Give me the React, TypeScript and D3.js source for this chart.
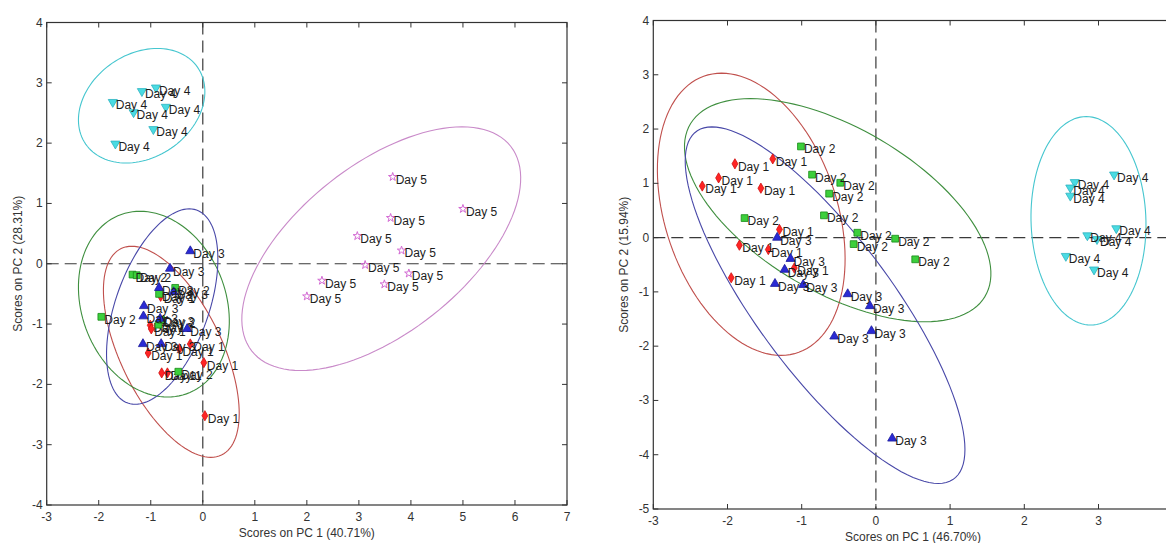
import React from "react";
import * as d3 from "d3";

// PCA scores, left plot (PC1 40.71%, PC2 28.31%)
const leftDay1 = [[-0.81, -0.54], [-1.01, -1.02], [-0.99, -1.08], [-1.05, -1.48], [-0.45, -1.41], [-0.24, -1.33], [0.02, -1.64], [-0.79, -1.81], [-0.68, -1.81], [0.04, -2.52]];
const leftDay2 = [[-1.35, -0.18], [-1.27, -0.19], [-0.84, -0.5], [-0.53, -0.4], [-1.95, -0.88], [-0.85, -1.01], [-0.8, -0.93], [-0.47, -1.79]];
const leftDay3 = [[-0.24, 0.21], [-0.63, -0.08], [-0.84, -0.4], [-0.56, -0.47], [-1.13, -0.7], [-1.14, -0.87], [-0.82, -0.91], [-0.3, -1.08], [-1.15, -1.33], [-0.8, -1.33]];
const leftDay4 = [[-1.73, 2.68], [-1.33, 2.51], [-1.17, 2.86], [-0.9, 2.92], [-0.71, 2.6], [-0.95, 2.23], [-1.68, 1.99]];
const leftDay5 = [[3.65, 1.44], [5.0, 0.91], [3.61, 0.76], [2.97, 0.46], [3.82, 0.22], [3.12, -0.02], [3.96, -0.16], [2.29, -0.28], [3.49, -0.34], [2.0, -0.54]];

// PCA scores, right plot (PC1 46.70%, PC2 15.94%)
const rightDay1 = [[-1.9, 1.36], [-1.39, 1.45], [-2.12, 1.1], [-2.34, 0.95], [-1.55, 0.91], [-1.3, 0.15], [-1.84, -0.14], [-1.45, -0.22], [-1.1, -0.56], [-1.95, -0.74]];
const rightDay2 = [[-1.01, 1.68], [-0.86, 1.16], [-0.48, 1.01], [-0.63, 0.81], [-0.7, 0.41], [-1.77, 0.36], [-0.25, 0.09], [-0.3, -0.12], [0.26, -0.02], [0.53, -0.4]];
const rightDay3 = [[-1.33, 0.0], [-1.15, -0.39], [-1.23, -0.59], [-1.36, -0.85], [-0.98, -0.87], [-0.38, -1.04], [-0.08, -1.26], [-0.56, -1.82], [-0.06, -1.72], [0.22, -3.7]];
const rightDay4 = [[2.68, 1.02], [2.62, 0.92], [2.62, 0.77], [3.21, 1.16], [3.24, 0.17], [2.85, 0.04], [2.98, -0.03], [2.56, -0.34], [2.94, -0.59]];

// confidence ellipses: [cx, cy, half width, half height, x offset of top point]
const leftEllipse1 = [-0.605, -1.46, 1.305, 1.75, -0.76];
const leftEllipse2 = [-0.94, -0.67, 1.45, 1.54, -0.265];
const leftEllipse3 = [-0.78, -0.71, 1.07, 1.62, 0.52];
const leftEllipse4 = [-1.175, 2.62, 1.215, 0.95, 0.3];
const leftEllipse5 = [3.43, 0.25, 2.68, 2.02, 1.55];
const rightEllipse1 = [-1.68, 0.43, 1.265, 2.6, -0.4];
const rightEllipse2 = [-0.515, 0.505, 2.065, 2.055, -1.175];
const rightEllipse3 = [-0.685, -1.245, 1.885, 3.285, -1.525];
const rightEllipse4 = [2.865, 0.31, 0.775, 1.92, -0.03];

const leftXTicks = [-3, -2, -1, 0, 1, 2, 3, 4, 5, 6, 7];
const leftYTicks = [-4, -3, -2, -1, 0, 1, 2, 3, 4];
const rightXTicks = [-3, -2, -1, 0, 1, 2, 3, 4];
const rightYTicks = [-5, -4, -3, -2, -1, 0, 1, 2, 3, 4];

const FONT = "'Liberation Sans', Arial, sans-serif";
const WIDTH = 1166;
const HEIGHT = 543;

const styles = {
  day1: { shape: "diamond", fill: "#ff2424", stroke: "#d01010", line: "#c0504d", label: "Day 1" },
  day2: { shape: "square", fill: "#3ccf3c", stroke: "#178a17", line: "#3f8f3f", label: "Day 2" },
  day3: { shape: "triangle", fill: "#2a2ad4", stroke: "#1a1a9a", line: "#4848a8", label: "Day 3" },
  day4: { shape: "down", fill: "#4adbe2", stroke: "#2fb3c0", line: "#45c6cf", label: "Day 4" },
  day5: { shape: "star", fill: "none", stroke: "#d36ad3", line: "#c98ac9", label: "Day 5" },
};

function symbolPath(shape) {
  if (shape === "diamond") return d3.symbol(d3.symbolDiamond, 30)();
  if (shape === "square") return d3.symbol(d3.symbolSquare, 46)();
  if (shape === "star") return d3.symbol(d3.symbolStar, 22)();
  return d3.symbol(d3.symbolTriangle, 36)();
}

function Panel(props) {
  const { x0, y0, w, h, xTicks, yTicks, groups, xLabel, yLabel } = props;
  const x = d3.scaleLinear().domain([xTicks[0], xTicks[xTicks.length - 1]]).range([x0, x0 + w]);
  const y = d3.scaleLinear().domain([yTicks[0], yTicks[yTicks.length - 1]]).range([y0 + h, y0]);

  const line = d3.line().x((d) => x(d[0])).y((d) => y(d[1])).curve(d3.curveLinearClosed);
  const ellipsePts = (e) => {
    const [cx, cy, hw, hh, dt] = e;
    const a = Math.sqrt(hw * hw - dt * dt);
    return d3.range(120).map((i) => {
      const t = (i / 120) * Math.PI * 2;
      return [cx + a * Math.cos(t) + dt * Math.sin(t), cy + hh * Math.sin(t)];
    });
  };

  const tl = 5;
  return (
    <g>
      {/* zero lines */}
      <line x1={x(0)} x2={x(0)} y1={y0} y2={y0 + h} stroke="#3a3a3a" strokeWidth={1.2} strokeDasharray="12,6" />
      <line x1={x0} x2={x0 + w} y1={y(0)} y2={y(0)} stroke="#3a3a3a" strokeWidth={1.2} strokeDasharray="12,6" />

      {groups.map((g, gi) => (
        <path key={"e" + gi} d={line(ellipsePts(g.ellipse))} fill="none" stroke={g.style.line} strokeWidth={1.1} />
      ))}

      {groups.map((g, gi) => (
        <g key={"p" + gi}>
          {g.points.map((p, i) => (
            <path
              key={i}
              d={symbolPath(g.style.shape)}
              transform={`translate(${x(p[0])},${y(p[1])})${g.style.shape === "down" ? " rotate(180)" : ""}`}
              fill={g.style.fill}
              stroke={g.style.stroke}
              strokeWidth={g.style.shape === "star" ? 1 : 0.8}
            />
          ))}
          {g.points.map((p, i) => (
            <text key={"t" + i} x={x(p[0]) + 3} y={y(p[1]) + 7} fontSize={12} fontFamily={FONT} fill="#1c1c1c">
              {g.style.label}
            </text>
          ))}
        </g>
      ))}

      {/* box and ticks */}
      <rect x={x0} y={y0} width={w} height={h} fill="none" stroke="#333" strokeWidth={1.2} />
      {xTicks.map((t) => (
        <g key={"xt" + t}>
          <line x1={x(t)} x2={x(t)} y1={y0 + h} y2={y0 + h - tl} stroke="#333" />
          <line x1={x(t)} x2={x(t)} y1={y0} y2={y0 + tl} stroke="#333" />
          {x(t) + 4 < WIDTH && (
            <text x={x(t)} y={y0 + h + 16} textAnchor="middle" fontSize={12} fontFamily={FONT} fill="#333">
              {String(t)}
            </text>
          )}
        </g>
      ))}
      {yTicks.map((t) => (
        <g key={"yt" + t}>
          <line x1={x0} x2={x0 + tl} y1={y(t)} y2={y(t)} stroke="#333" />
          <line x1={x0 + w} x2={x0 + w - tl} y1={y(t)} y2={y(t)} stroke="#333" />
          <text x={x0 - 4} y={y(t) + 4} textAnchor="end" fontSize={12} fontFamily={FONT} fill="#333">
            {String(t)}
          </text>
        </g>
      ))}
      <text x={x0 + w / 2} y={y0 + h + 32} textAnchor="middle" fontSize={12} fontFamily={FONT} fill="#333">
        {xLabel}
      </text>
      <text
        transform={`translate(${x0 - 25},${y0 + h / 2}) rotate(-90)`}
        textAnchor="middle"
        fontSize={12}
        fontFamily={FONT}
        fill="#333"
      >
        {yLabel}
      </text>
    </g>
  );
}

export default function App() {
  const leftGroups = [
    { points: leftDay1, ellipse: leftEllipse1, style: styles.day1 },
    { points: leftDay2, ellipse: leftEllipse2, style: styles.day2 },
    { points: leftDay3, ellipse: leftEllipse3, style: styles.day3 },
    { points: leftDay4, ellipse: leftEllipse4, style: styles.day4 },
    { points: leftDay5, ellipse: leftEllipse5, style: styles.day5 },
  ];
  const rightGroups = [
    { points: rightDay1, ellipse: rightEllipse1, style: styles.day1 },
    { points: rightDay2, ellipse: rightEllipse2, style: styles.day2 },
    { points: rightDay3, ellipse: rightEllipse3, style: styles.day3 },
    { points: rightDay4, ellipse: rightEllipse4, style: styles.day4 },
  ];

  return (
    <div style={{ position: "absolute", left: 0, top: 0 }}>
      <svg width={WIDTH} height={HEIGHT} style={{ display: "block", background: "#fff" }}>
        <Panel
          x0={46.7}
          y0={22.5}
          w={520.3}
          h={482.5}
          xTicks={leftXTicks}
          yTicks={leftYTicks}
          groups={leftGroups}
          xLabel="Scores on PC 1 (40.71%)"
          yLabel="Scores on PC 2 (28.31%)"
        />
        <Panel
          x0={653.3}
          y0={20.5}
          w={519.4}
          h={488.5}
          xTicks={rightXTicks}
          yTicks={rightYTicks}
          groups={rightGroups}
          xLabel="Scores on PC 1 (46.70%)"
          yLabel="Scores on PC 2 (15.94%)"
        />
      </svg>
    </div>
  );
}
